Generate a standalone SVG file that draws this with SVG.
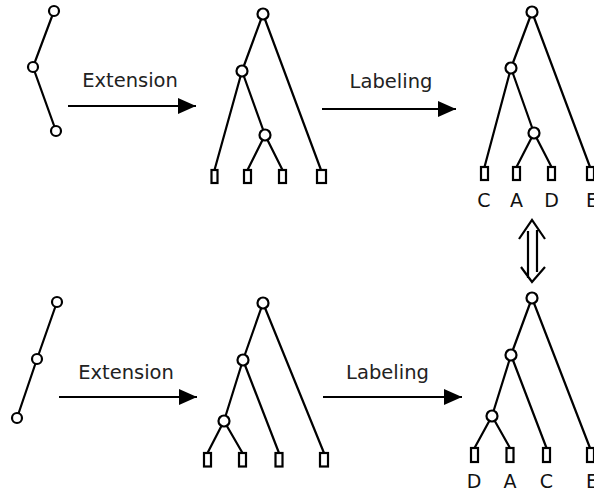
<svg xmlns="http://www.w3.org/2000/svg" width="594" height="492" viewBox="0 0 594 492">
<defs>
<style>
.e{stroke:#000;stroke-width:2.2;fill:none}
.n{stroke:#000;stroke-width:2.2;fill:#fff}
.t{font-family:"DejaVu Sans",sans-serif;font-size:19.5px;fill:#222}
.l{font-family:"DejaVu Sans",sans-serif;font-size:19px;fill:#111;text-anchor:middle}
</style>
<marker id="ah" markerUnits="userSpaceOnUse" markerWidth="20" markerHeight="18" refX="18" refY="8" orient="auto">
<path d="M0,0 L18,8 L0,16 Z" fill="#000"/>
</marker>
</defs>
<rect width="594" height="492" fill="#fff"/>
<g id="connectors">
<polyline class="e" points="54,11 33,67 56,131"/>
<polyline class="e" points="57,302 37,359 17,418"/>
<path class="e" d="M263,14 L242,71 M263,14 L321,170 M242,71 L214.5,170 M242,71 L265,135 M265,135 L247.5,170 M265,135 L282.5,170"/>
<path class="e" d="M532,12 L511,68 M532,12 L590,167 M511,68 L484.5,167 M511,68 L534,133 M534,133 L516.5,167 M534,133 L551.5,167"/>
<path class="e" d="M263,303 L243,360 M263,303 L324,453 M243,360 L224,421 M243,360 L279,453 M224,421 L207.5,453 M224,421 L242.5,453"/>
<path class="e" d="M532,298 L511,355 M532,298 L590,448 M511,355 L492,416 M511,355 L546.5,448 M492,416 L474.5,448 M492,416 L510,448"/>
<line class="e" x1="68" y1="106" x2="196" y2="106" marker-end="url(#ah)"/>
<line class="e" x1="322" y1="109" x2="456" y2="109" marker-end="url(#ah)"/>
<line class="e" x1="59" y1="397" x2="197" y2="397" marker-end="url(#ah)"/>
<line class="e" x1="323" y1="397" x2="462" y2="397" marker-end="url(#ah)"/>
<path class="e" d="M519,239 L532,220 L545,239 M521,267 L532,282 L545,267 M528,231 L528,278 M537,230 L537,272"/>
</g>
<g id="labels">
<text class="t" x="130" y="87" text-anchor="middle">Extension</text>
<text class="t" x="391" y="88" text-anchor="middle">Labeling</text>
<text class="t" x="126" y="379" text-anchor="middle">Extension</text>
<text class="t" x="387.5" y="379" text-anchor="middle">Labeling</text>
</g>
<g id="tl-nodes">
<circle class="n" cx="54" cy="11" r="5"/>
<circle class="n" cx="33" cy="67" r="5"/>
<circle class="n" cx="56" cy="131" r="5"/>
</g>
<g id="bl-nodes">
<circle class="n" cx="57" cy="302" r="5"/>
<circle class="n" cx="37" cy="359" r="5"/>
<circle class="n" cx="17" cy="418" r="5"/>
</g>
<g id="tm-nodes">
<circle class="n" cx="263" cy="14" r="5.5"/>
<circle class="n" cx="242" cy="71" r="5.5"/>
<circle class="n" cx="265" cy="135" r="5.5"/>
<rect class="n" x="211.5" y="170" width="6" height="13"/>
<rect class="n" x="244" y="170" width="7" height="13"/>
<rect class="n" x="279" y="170" width="7" height="13"/>
<rect class="n" x="317" y="170" width="9" height="13"/>
</g>
<g id="tr-nodes">
<circle class="n" cx="532" cy="12" r="5.5"/>
<circle class="n" cx="511" cy="68" r="5.5"/>
<circle class="n" cx="534" cy="133" r="5.5"/>
<rect class="n" x="481" y="167" width="7" height="13"/>
<rect class="n" x="513" y="167" width="7" height="13"/>
<rect class="n" x="548" y="167" width="7" height="13"/>
<rect class="n" x="587" y="167" width="7" height="13"/>
<text class="l" x="484" y="207">C</text>
<text class="l" x="516.5" y="207">A</text>
<text class="l" x="551.5" y="207">D</text>
<text class="l" x="592" y="207">E</text>
</g>
<g id="bm-nodes">
<circle class="n" cx="263" cy="303" r="5.5"/>
<circle class="n" cx="243" cy="360" r="5.5"/>
<circle class="n" cx="224" cy="421" r="5.5"/>
<rect class="n" x="204" y="453" width="7" height="13.5"/>
<rect class="n" x="239" y="453" width="7" height="13.5"/>
<rect class="n" x="275.5" y="453" width="7" height="13.5"/>
<rect class="n" x="320" y="453" width="8" height="13.5"/>
</g>
<g id="br-nodes">
<circle class="n" cx="532" cy="298" r="5.5"/>
<circle class="n" cx="511" cy="355" r="5.5"/>
<circle class="n" cx="492" cy="416" r="5.5"/>
<rect class="n" x="471" y="448" width="7" height="14"/>
<rect class="n" x="506.5" y="448" width="7" height="14"/>
<rect class="n" x="543" y="448" width="7" height="14"/>
<rect class="n" x="587" y="448" width="7" height="14"/>
<text class="l" x="474" y="488">D</text>
<text class="l" x="510" y="488">A</text>
<text class="l" x="546.5" y="488">C</text>
<text class="l" x="592" y="488">E</text>
</g>
</svg>
